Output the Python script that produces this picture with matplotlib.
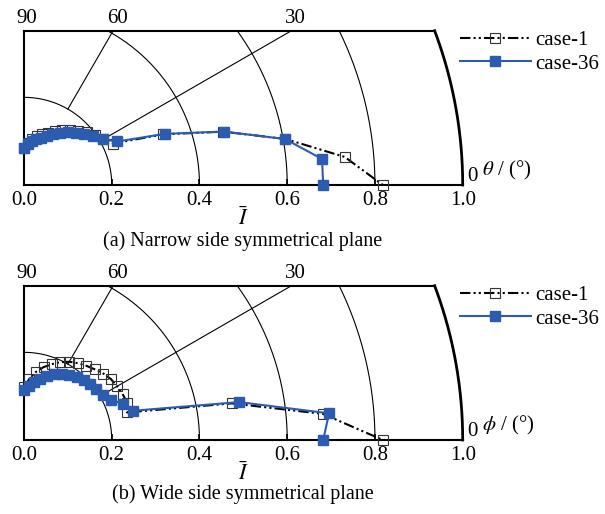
import numpy as np
import matplotlib
matplotlib.use('Agg')
import matplotlib.pyplot as plt

plt.rcParams['font.family'] = ['Liberation Serif', 'DejaVu Serif']
plt.rcParams['mathtext.fontset'] = 'stix'

# Angulos (grados) y intensidad adimensional para cada caso
angulos = [90, 85, 80, 75, 70, 65, 60, 55, 50, 45, 40, 35, 30, 25, 20, 15, 10, 5, 0]

# (a) plano de simetria del lado estrecho
a_case1 = [0.085, 0.097, 0.107, 0.115, 0.123, 0.132, 0.142, 0.153, 0.164, 0.175,
           0.187, 0.198, 0.208, 0.224, 0.338, 0.470, 0.605, 0.734, 0.818]
a_case36 = [0.084, 0.094, 0.102, 0.108, 0.115, 0.124, 0.134, 0.145, 0.157, 0.168,
            0.180, 0.193, 0.208, 0.235, 0.341, 0.471, 0.604, 0.682, 0.682]

# (b) plano de simetria del lado ancho
b_case1 = [0.120, 0.140, 0.158, 0.172, 0.184, 0.196, 0.206, 0.214, 0.221, 0.228,
           0.236, 0.242, 0.245, 0.248, 0.250, 0.243, 0.481, 0.684, 0.818]
b_case36 = [0.114, 0.124, 0.135, 0.145, 0.155, 0.165, 0.173, 0.180, 0.187, 0.193,
            0.197, 0.201, 0.207, 0.218, 0.240, 0.258, 0.498, 0.698, 0.682]

ticks_x = [0.0, 0.2, 0.4, 0.6, 0.8, 1.0]
arcos = [0.2, 0.4, 0.6, 0.8]
radiales = [30, 60]
AZUL = '#2c5cb0'
Y_TOP = 0.352
FS = 15


def polar_a_xy(r, ang):
    t = np.radians(ang)
    r = np.asarray(r)
    return r * np.cos(t), r * np.sin(t)


def dibujar_panel(ax, r1, r36, etiqueta_ang, titulo, fig, y_titulo):
    ax.set_xlim(0, 1.0)
    ax.set_ylim(0, Y_TOP)

    # rejilla polar
    for r in arcos:
        tmax = 90 if r <= Y_TOP else np.degrees(np.arcsin(Y_TOP / r))
        t = np.radians(np.linspace(0, tmax, 200))
        ax.plot(r * np.cos(t), r * np.sin(t), color='black', lw=0.8, zorder=1)
    for a in radiales:
        t = np.radians(a)
        r_fin = Y_TOP / np.sin(t)
        ax.plot([0.2 * np.cos(t), r_fin * np.cos(t)], [0.2 * np.sin(t), Y_TOP],
                color='black', lw=0.8, zorder=1)
        ax.annotate(str(a), (r_fin * np.cos(t), Y_TOP), xytext=(3, 2),
                    textcoords='offset points', ha='center', va='bottom', fontsize=FS)
    ax.annotate('90', (0, Y_TOP), xytext=(2, 2), textcoords='offset points',
                ha='center', va='bottom', fontsize=FS)

    # borde exterior r = 1
    tmax = np.degrees(np.arcsin(Y_TOP))
    t = np.radians(np.linspace(0, tmax, 200))
    ax.plot(np.cos(t), np.sin(t), color='black', lw=2.0, clip_on=False, zorder=3)
    ax.plot([0, np.sqrt(1 - Y_TOP ** 2)], [Y_TOP, Y_TOP], color='black', lw=1.5,
            clip_on=False, zorder=3)
    ax.spines['top'].set_visible(False)
    ax.spines['right'].set_visible(False)
    ax.spines['left'].set_linewidth(1.5)
    ax.spines['bottom'].set_linewidth(1.5)

    ax.set_xticks(ticks_x)
    ax.set_xticklabels(['%.1f' % v for v in ticks_x], fontsize=FS)
    ax.tick_params(axis='x', direction='in', length=4, width=1.2, pad=4)
    ax.set_yticks([])

    x1, y1 = polar_a_xy(r1, angulos)
    x36, y36 = polar_a_xy(r36, angulos)
    ax.plot(x1, y1, color='black', lw=1.5, linestyle=(0, (5, 1.5, 1, 1.5, 1, 1.5)),
            marker='s', markersize=7, markerfacecolor='none', markeredgecolor='#333333',
            markeredgewidth=0.8, clip_on=False, zorder=4, label='case-1')
    ax.plot(x36, y36, color=AZUL, lw=1.5, marker='s', markersize=7.5,
            markerfacecolor=AZUL, markeredgecolor=AZUL, clip_on=False, zorder=5,
            label='case-36')

    ax.annotate('0', (1.0, 0), xytext=(3, -1), textcoords='offset points',
                ha='left', va='bottom', fontsize=FS)
    ax.annotate(etiqueta_ang, (1.0, 0.034), xytext=(14, 0), textcoords='offset points',
                ha='left', va='center', fontsize=FS)

    ax.set_xlabel(r'$\bar{I}$', fontsize=FS + 1, labelpad=-2)
    ax.legend(loc='upper left', bbox_to_anchor=(0.994, 1.003), frameon=False,
              fontsize=FS, handlelength=3.4, handletextpad=0.2, labelspacing=0.2,
              borderaxespad=0, borderpad=0)
    fig.text(243 / 605, y_titulo, titulo, ha='center', va='center', fontsize=14.5)


fig = plt.figure(figsize=(6.05, 5.14), dpi=100)
ax_a = fig.add_axes([24 / 605, (514 - 185) / 514, 438.7 / 605, 154.3 / 514])
ax_b = fig.add_axes([24 / 605, (514 - 440) / 514, 438.7 / 605, 154.3 / 514])

dibujar_panel(ax_a, a_case1, a_case36, r'$\theta$ / (°)',
              '(a) Narrow side symmetrical plane', fig, 1 - 241 / 514)
dibujar_panel(ax_b, b_case1, b_case36, r'$\phi$ / (°)',
              '(b) Wide side symmetrical plane', fig, 1 - 494 / 514)

plt.savefig('out.png', dpi=100)
